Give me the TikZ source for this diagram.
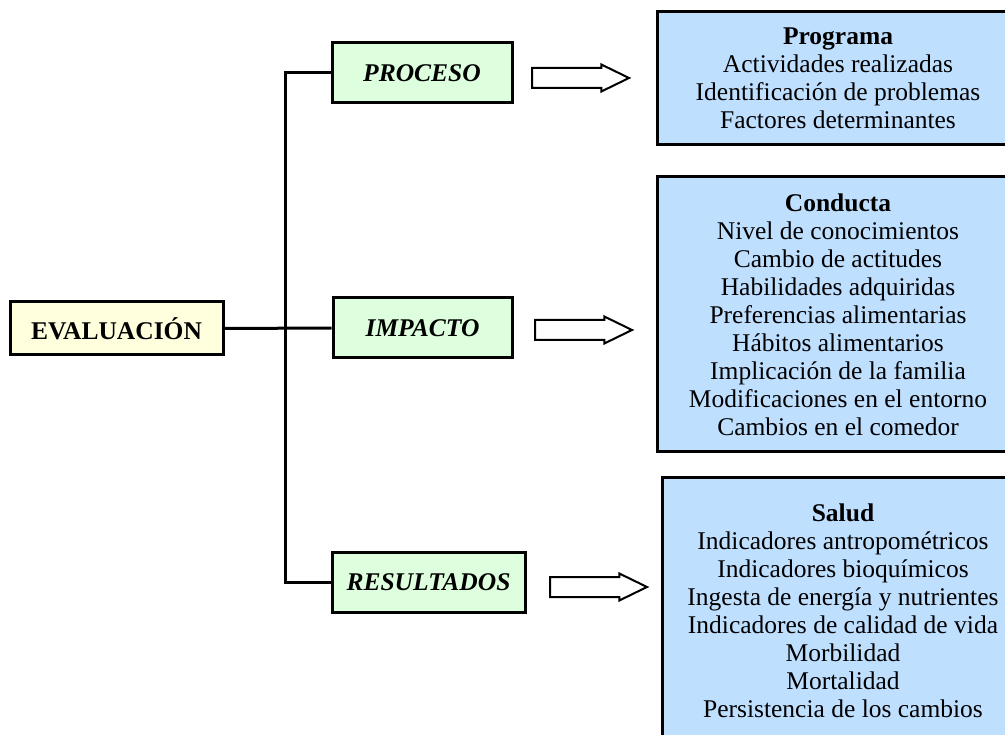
\documentclass[tikz,border=0pt]{standalone}
\usepackage{fontspec}
\setmainfont{Liberation Serif}
\usetikzlibrary{shapes.arrows,shadows}
\definecolor{evalyellow}{RGB}{255,255,221}
\definecolor{stagegreen}{RGB}{221,255,221}
\definecolor{listblue}{RGB}{191,223,255}
\tikzset{
  box/.style={draw=black, line width=3pt, inner sep=0pt,
    drop shadow={shadow xshift=1.5pt, shadow yshift=-1.5pt, fill=black!35, opacity=1},
    font=\fontsize{25.5}{28}\selectfont},
  evalbox/.style={box, fill=evalyellow, minimum width=213pt, minimum height=53pt},
  stagebox/.style={box, fill=stagegreen, minimum height=60pt, font=\fontsize{25.5}{28}\selectfont\bfseries\itshape},
  listbox/.style={box, fill=listblue, minimum width=362pt, align=center},
  hollowarrow/.style={single arrow, draw=black, fill=white, line width=2pt, inner xsep=0pt, inner ysep=9pt,
    minimum height=97pt, single arrow head extend=3.5pt, single arrow tip angle=52, anchor=tail},
  link/.style={line width=3pt}
}

\begin{document}
\begin{tikzpicture}[x=1pt,y=-1pt]
\path[use as bounding box, clip] (0,0) rectangle (1005,735);

\node[evalbox] (eval) at (116.5,328.5) {\textbf{EVALUACIÓN}};

\node[stagebox, minimum width=180pt] (proc) at (422,73) {PROCESO};
\node[stagebox, minimum width=179pt] (imp) at (422.5,328) {IMPACTO};
\node[stagebox, minimum width=193pt] (res) at (428.5,582.5) {RESULTADOS};

\node[listbox, minimum height=133pt] (prog) at (838,78.5)
  {\textbf{Programa}\\Actividades realizadas\\Identificación de problemas\\Factores determinantes};
\node[listbox, minimum height=275pt] (cond) at (838,314.5)
  {\textbf{Conducta}\\Nivel de conocimientos\\Cambio de actitudes\\Habilidades adquiridas\\Preferencias alimentarias\\Hábitos alimentarios\\Implicación de la familia\\Modificaciones en el entorno\\Cambios en el comedor};
\node[listbox, minimum height=265pt] (salud) at (843,610.5)
  {\textbf{Salud}\\Indicadores antropométricos\\Indicadores bioquímicos\\Ingesta de energía y nutrientes\\Indicadores de calidad de vida\\Morbilidad\\Mortalidad\\Persistencia de los cambios};

\draw[link] (eval.east) -- (imp.west);
\draw[link] (proc.west) -- ++(-45,0) |- (res.west);

\node[hollowarrow] (ar1) at (531,78) {};
\node[hollowarrow] (ar2) at (534,330) {};
\node[hollowarrow] (ar3) at (549,587) {};
\end{tikzpicture}
\end{document}
